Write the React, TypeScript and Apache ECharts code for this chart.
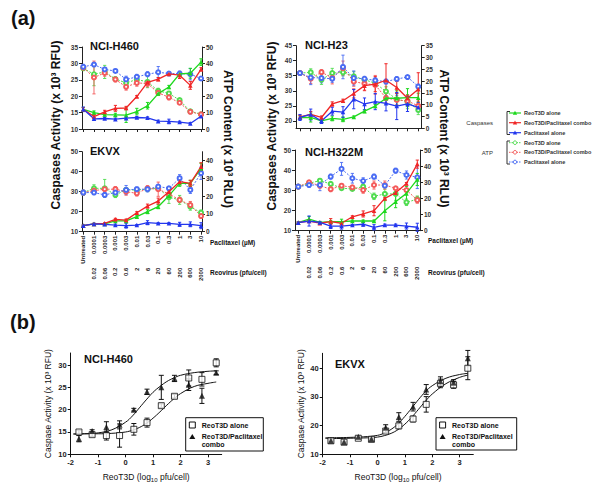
import { useEffect, useRef } from 'react';
import * as echarts from 'echarts';

// ---------- shared labels ----------
const paclitaxelLabels = ['Untreated', '0.0001', '0.0003', '0.001', '0.003', '0.01', '0.03', '0.1', '0.3', '1', '3', '10'];
const reovirusLabels = ['', '0.02', '0.06', '0.2', '0.6', '2', '6', '20', '60', '200', '600', '2000'];
const legendLabels = ['ReoT3D alone', 'ReoT3D/Paclitaxel combo', 'Paclitaxel alone'];

// ---------- (a) NCI-H460 ----------
const h460CaspReo = [16.0, 15.0, 14.4, 14.3, 14.2, 15.3, 17.1, 20.8, 22.8, 26.8, 27.0, 30.4];
const h460CaspReoErr = [0.6, 0.5, 0.5, 0.5, 2.2, 1.0, 1.0, 0.6, 0.5, 0.6, 1.5, 1.0];
const h460CaspCombo = [16.0, 13.8, 15.2, 16.3, 16.4, 19.9, 24.2, 25.2, 26.8, 26.4, 23.3, 28.2];
const h460CaspComboErr = [0.5, 0.5, 0.5, 0.9, 0.5, 0.3, 0.5, 0.5, 0.5, 1.0, 1.2, 0.5];
const h460CaspPac = [16.0, 13.1, 13.2, 13.0, 13.3, 13.5, 13.4, 12.4, 12.3, 12.1, 11.7, 13.9];
const h460CaspPacErr = [0.7, 0.3, 0.3, 0.3, 0.3, 0.3, 0.3, 0.3, 0.7, 0.3, 0.3, 0.3];
const h460AtpReo = [37.0, 33.4, 34.8, 30.5, 28.1, 30.2, 28.7, 23.3, 21.7, 17.6, 10.8, 9.0];
const h460AtpReoErr = [1, 7, 4, 1, 3, 1.5, 3.5, 1.5, 1, 1, 0.5, 0.5];
const h460AtpCombo = [37.4, 31.4, 34.2, 30.2, 25.7, 28.1, 27.7, 22.1, 19.3, 16.0, 10.5, 8.9];
const h460AtpComboErr = [1, 10, 2, 1.5, 2, 2, 2, 1.5, 1.5, 1, 0.5, 0.5];
const h460AtpPac = [37.9, 39.3, 36.3, 35.4, 30.2, 31.8, 33.4, 34.6, 33.8, 33.8, 33.4, 30.8];
const h460AtpPacErr = [1.5, 1.2, 1.2, 0.5, 2, 1.5, 1.5, 3.5, 0.8, 1.5, 3.5, 0.5];

// ---------- (a) EKVX ----------
const ekvxCaspReo = [13.0, 13.9, 13.9, 15.4, 15.4, 17.5, 20.0, 22.5, 28.0, 34.2, 34.2, 41.7];
const ekvxCaspReoErr = [0.3, 0.3, 0.3, 0.5, 0.5, 0.5, 1, 1, 1.5, 1.5, 1.5, 2.5];
const ekvxCaspCombo = [13.0, 13.9, 14.2, 16.2, 15.8, 19.5, 22.8, 25.3, 30.0, 35.0, 34.2, 42.5];
const ekvxCaspComboErr = [0.3, 0.3, 0.3, 0.5, 0.5, 0.5, 1, 1.5, 1.5, 1.5, 1.5, 2];
const ekvxCaspPac = [13.0, 13.9, 13.7, 13.3, 13.0, 13.3, 14.5, 14.2, 14.2, 13.7, 13.7, 13.0];
const ekvxCaspPacErr = [0.3, 0.3, 0.3, 0.5, 1.2, 0.3, 1, 0.3, 0.3, 1, 1.2, 1.5];
const ekvxAtpReo = [22.0, 24.4, 24.4, 20.7, 23.5, 23.5, 23.9, 24.4, 19.4, 17.9, 14.1, 10.7];
const ekvxAtpReoErr = [1, 2, 5, 1.5, 1, 1, 1, 1, 3.5, 2.5, 2, 1.5];
const ekvxAtpCombo = [22.0, 23.1, 23.9, 23.9, 22.5, 21.6, 24.4, 23.9, 21.2, 17.9, 15.0, 8.8];
const ekvxAtpComboErr = [1, 1, 1.5, 1.5, 2, 1.5, 1.5, 4, 2, 1.5, 2, 1];
const ekvxAtpPac = [22.0, 22.0, 20.7, 22.0, 23.5, 23.9, 23.9, 25.4, 24.4, 30.1, 23.5, 32.9];
const ekvxAtpPacErr = [1.5, 1, 1.3, 1.5, 2.5, 1.2, 1.5, 1, 1, 2, 2, 3.5];

// ---------- (a) NCI-H23 ----------
const h23CaspReo = [21.1, 21.1, 20.0, 20.8, 20.5, 21.3, 23.2, 24.9, 27.5, 27.5, 27.7, 27.7];
const h23CaspReoErr = [0.5, 1.5, 0.5, 0.8, 0.8, 0.3, 0.5, 0.5, 0.5, 2.5, 3, 1.5];
const h23CaspCombo = [21.3, 22.1, 21.1, 25.6, 26.7, 29.1, 31.7, 32.2, 33.5, 31.1, 27.5, 30.5];
const h23CaspComboErr = [0.5, 1, 0.5, 0.7, 0.5, 1.5, 1.5, 2.5, 5.5, 2, 1, 5.5];
const h23CaspPac = [21.1, 22.1, 19.9, 23.2, 22.9, 27.2, 25.6, 26.4, 25.8, 24.9, 25.6, 24.5];
const h23CaspPacErr = [1, 1.8, 0.8, 1.3, 1.8, 3.2, 2, 2.7, 2.5, 4.5, 2.5, 1.5];
const h23AtpReo = [23.4, 23.7, 20.6, 23.4, 23.7, 22.0, 20.6, 19.1, 15.6, 12.3, 11.3, 7.8];
const h23AtpReoErr = [0.5, 1.5, 2, 2, 1.5, 2, 1, 1, 2, 2.5, 3, 2];
const h23AtpCombo = [23.4, 21.0, 23.8, 21.3, 25.5, 19.8, 18.9, 18.4, 12.8, 12.0, 11.6, 9.5];
const h23AtpComboErr = [0.5, 2, 1, 2.5, 3, 2, 3, 4, 2, 2, 2, 2];
const h23AtpPac = [23.4, 21.5, 21.3, 21.0, 26.0, 21.3, 21.0, 20.3, 19.8, 20.9, 21.7, 17.7];
const h23AtpPacErr = [0.5, 3, 2, 1.5, 5, 3, 1, 1, 1, 1, 0.5, 1];

// ---------- (a) NCI-H322M ----------
const h322CaspReo = [14.0, 15.8, 14.1, 14.5, 14.5, 14.8, 14.8, 14.8, 19.9, 24.4, 28.5, 35.4];
const h322CaspReoErr = [0.3, 1.2, 0.3, 0.5, 1.2, 0.5, 0.5, 0.5, 5, 3, 3.5, 3];
const h322CaspCombo = [14.0, 14.8, 13.7, 14.5, 13.7, 16.9, 18.3, 19.9, 26.0, 28.8, 33.4, 43.0];
const h322CaspComboErr = [0.3, 0.5, 0.5, 1.5, 0.5, 0.5, 1.5, 2.5, 0.5, 0.5, 0.5, 2];
const h322CaspPac = [14.0, 14.8, 14.1, 12.3, 12.3, 12.8, 13.2, 11.7, 12.8, 12.8, 12.3, 11.7];
const h322CaspPacErr = [0.3, 2.5, 0.5, 1.2, 1.5, 0.3, 1, 1.3, 0.5, 0.5, 1.5, 2];
const h322AtpReo = [27.3, 29.4, 31.0, 29.0, 26.3, 25.9, 27.3, 21.3, 22.8, 22.8, 17.6, 19.5];
const h322AtpReoErr = [0.5, 1.5, 0.5, 0.5, 0.5, 0.5, 1.5, 2, 3, 4, 2, 2];
const h322AtpCombo = [27.3, 30.0, 27.9, 25.7, 27.9, 26.9, 25.2, 28.3, 28.3, 26.3, 25.2, 19.0];
const h322AtpComboErr = [0.5, 1, 1.5, 1.5, 0.5, 0.5, 2, 2.5, 2.5, 1, 2.5, 2];
const h322AtpPac = [27.3, 28.3, 28.3, 33.5, 38.3, 32.5, 30.8, 33.5, 27.9, 37.2, 34.5, 33.1];
const h322AtpPacErr = [1, 1.5, 3.5, 1.5, 4, 3, 2, 1.5, 0.5, 1.5, 2.5, 7];

// ---------- (b) dose-response ----------
const logDose = [-1.7, -1.22, -0.7, -0.22, 0.3, 0.78, 1.3, 1.78, 2.3, 2.78, 3.3];
const bH460Alone = [15.0, 14.4, 14.2, 14.2, 15.6, 17.1, 20.9, 23.0, 27.1, 26.8, 30.5];
const bH460AloneErr = [0.4, 0.4, 1.0, 2.6, 1.3, 1.0, 0.4, 0.4, 1.8, 1.5, 0.9];
const bH460Combo = [13.5, 15.2, 16.1, 16.6, 20.0, 24.0, 25.0, 27.0, 25.6, 23.1, 28.3];
const bH460ComboErr = [0.7, 0.3, 1.2, 0.9, 0.3, 0.6, 2.7, 0.7, 1.3, 1.7, 0.4];
const bEkvxAlone = [14.7, 14.2, 15.6, 15.2, 18.1, 19.9, 22.3, 27.4, 34.7, 34.2, 40.0];
const bEkvxAloneErr = [0.3, 0.3, 0.3, 0.3, 0.5, 1, 1, 2.7, 1.5, 1.2, 4];
const bEkvxCombo = [14.7, 14.3, 16.1, 15.3, 19.3, 23.0, 26.6, 32.6, 35.5, 35.0, 43.5];
const bEkvxComboErr = [0.3, 0.3, 0.3, 0.3, 1, 1.5, 1.5, 1.7, 1.5, 1, 2.7];
// fitted curves at these x positions
const curveX = [-1.9, -1.5, -1, -0.5, 0, 0.25, 0.5, 0.75, 1, 1.25, 1.5, 1.75, 2, 2.5, 3, 3.3];
const bH460AloneCurve = [14.6, 14.6, 14.6, 14.7, 15.0, 15.4, 16.0, 16.9, 18.1, 19.5, 21.0, 22.4, 23.6, 25.2, 25.9, 26.2];
const bH460ComboCurve = [14.5, 14.6, 14.8, 15.5, 17.2, 18.6, 20.4, 22.2, 23.9, 25.2, 26.3, 27.1, 27.7, 28.3, 28.6, 28.7];
const bEkvxAloneCurve = [15.5, 15.5, 15.6, 15.7, 16.0, 16.5, 17.3, 18.6, 20.5, 22.9, 25.7, 28.5, 31.0, 34.6, 36.8, 37.6];
const bEkvxComboCurve = [15.8, 15.8, 15.9, 16.1, 16.6, 17.4, 18.7, 20.6, 23.2, 26.1, 29.1, 31.8, 33.9, 36.5, 37.8, 38.2];
const bXTicks = [-2, -1, 0, 1, 2, 3];

const FONT = '"Liberation Sans", Arial, Helvetica, sans-serif';
const caspColors = ['#1fd81f', '#f02626', '#2236ee'];
const atpColors = ['#4fdc4f', '#f45a5a', '#4a6cf4'];
const catIdx = paclitaxelLabels.map((_, i) => i);

const panelsA = [
  {
    title: 'NCI-H460', tx: 90, ty: 46, grid: { left: 82, top: 47, width: 120, height: 82 }, xMin: -0.12, xMax: 11.09,
    yL: [10, 35], yLTicks: [10, 15, 20, 25, 30, 35], yR: [0, 50], yRTicks: [0, 10, 20, 30, 40, 50], labels: false,
    casp: [[h460CaspReo, h460CaspReoErr], [h460CaspCombo, h460CaspComboErr], [h460CaspPac, h460CaspPacErr]],
    atp: [[h460AtpReo, h460AtpReoErr], [h460AtpCombo, h460AtpComboErr], [h460AtpPac, h460AtpPacErr]],
  },
  {
    title: 'EKVX', tx: 90, ty: 151, grid: { left: 82, top: 151.7, width: 120, height: 80 }, xMin: -0.12, xMax: 11.09,
    yL: [10, 50], yLTicks: [10, 20, 30, 40, 50], yR: [0, 45], yRTicks: [0, 10, 20, 30, 40], labels: true,
    casp: [[ekvxCaspReo, ekvxCaspReoErr], [ekvxCaspCombo, ekvxCaspComboErr], [ekvxCaspPac, ekvxCaspPacErr]],
    atp: [[ekvxAtpReo, ekvxAtpReoErr], [ekvxAtpCombo, ekvxAtpComboErr], [ekvxAtpPac, ekvxAtpPacErr]],
  },
  {
    title: 'NCI-H23', tx: 305, ty: 45, grid: { left: 296, top: 45.7, width: 125.7, height: 82.6 }, xMin: -0.37, xMax: 11.32,
    yL: [17.5, 45], yLTicks: [20, 25, 30, 35, 40, 45], yR: [0, 35], yRTicks: [0, 5, 10, 15, 20, 25, 30, 35], labels: false,
    casp: [[h23CaspReo, h23CaspReoErr], [h23CaspCombo, h23CaspComboErr], [h23CaspPac, h23CaspPacErr]],
    atp: [[h23AtpReo, h23AtpReoErr], [h23AtpCombo, h23AtpComboErr], [h23AtpPac, h23AtpPacErr]],
  },
  {
    title: 'NCI-H322M', tx: 305, ty: 151.5, grid: { left: 295, top: 150, width: 125, height: 80.7 }, xMin: -0.3, xMax: 11.25,
    yL: [10, 50], yLTicks: [10, 20, 30, 40, 50], yR: [0, 50], yRTicks: [0, 10, 20, 30, 40, 50], labels: true,
    casp: [[h322CaspReo, h322CaspReoErr], [h322CaspCombo, h322CaspComboErr], [h322CaspPac, h322CaspPacErr]],
    atp: [[h322AtpReo, h322AtpReoErr], [h322AtpCombo, h322AtpComboErr], [h322AtpPac, h322AtpPacErr]],
  },
];

const panelsB = [
  {
    title: 'NCI-H460', tx: 84, ty: 359, grid: { left: 70.7, top: 353, width: 151, height: 101.3 }, yMax: 32.7, yTicks: [10, 15, 20, 25, 30],
    alone: [bH460Alone, bH460AloneErr], combo: [bH460Combo, bH460ComboErr], aloneCurve: bH460AloneCurve, comboCurve: bH460ComboCurve,
    yTitleX: 48, legend: { x: 185.7, y: 417.7, w: 77.6, h: 33.3 },
  },
  {
    title: 'EKVX', tx: 335, ty: 364.3, grid: { left: 322.7, top: 353.3, width: 150.6, height: 101 }, yMax: 45.2, yTicks: [10, 20, 30, 40],
    alone: [bEkvxAlone, bEkvxAloneErr], combo: [bEkvxCombo, bEkvxComboErr], aloneCurve: bEkvxAloneCurve, comboCurve: bEkvxComboCurve,
    yTitleX: 301, legend: { x: 436, y: 417.7, w: 80.7, h: 32.3 },
  },
];

function errorBars(xi: number, yi: number, xs: number[], vals: number[], errs: number[], color: string, cap: number, width = 1) {
  return {
    type: 'custom', xAxisIndex: xi, yAxisIndex: yi, silent: true, z: 1,
    data: vals.map((v, i) => [xs[i], v, errs[i]]),
    renderItem: (_p: any, api: any) => {
      const x = api.value(0), v = api.value(1), e = api.value(2);
      if (!e) return null;
      const a = api.coord([x, v + e]);
      const b = api.coord([x, v - e]);
      const st = { stroke: color, lineWidth: width };
      return {
        type: 'group', children: [
          { type: 'line', shape: { x1: a[0], y1: a[1], x2: b[0], y2: b[1] }, style: st },
          { type: 'line', shape: { x1: a[0] - cap, y1: a[1], x2: a[0] + cap, y2: a[1] }, style: st },
          { type: 'line', shape: { x1: b[0] - cap, y1: b[1], x2: b[0] + cap, y2: b[1] }, style: st },
        ],
      };
    },
  };
}

function txt(text: string, x: number, y: number, size: number, opts: any = {}) {
  return {
    type: 'text', x, y, rotation: opts.rot || 0, silent: true, z: 100,
    style: {
      text, fontFamily: FONT, fontSize: size, fontWeight: opts.weight || 'bold', fill: opts.fill || '#111',
      align: opts.align || 'left', verticalAlign: 'middle', rich: opts.rich,
    },
  };
}

function buildOption() {
  const grid: any[] = [];
  const xAxis: any[] = [];
  const yAxis: any[] = [];
  const series: any[] = [];
  const graphic: any[] = [];
  const axisCol = '#222';

  panelsA.forEach((p) => {
    const g = grid.length;
    grid.push({ ...p.grid });
    const xi = xAxis.length;
    xAxis.push({
      type: 'value', gridIndex: g, min: p.xMin, max: p.xMax, position: 'bottom',
      axisLine: { show: true, onZero: false, lineStyle: { color: axisCol, width: 1 } },
      axisTick: { show: true, length: 3, customValues: catIdx, lineStyle: { color: axisCol } },
      axisLabel: {
        show: p.labels, customValues: catIdx, formatter: (v: number) => paclitaxelLabels[Math.round(v)] ?? '',
        rotate: 90, margin: 4, fontSize: 6, fontWeight: 'bold', color: '#222', fontFamily: FONT,
      },
      splitLine: { show: false },
    });
    if (p.labels) {
      xAxis.push({
        type: 'value', gridIndex: g, min: p.xMin, max: p.xMax, position: 'bottom', offset: 32,
        axisLine: { show: false, onZero: false }, axisTick: { show: false },
        axisLabel: {
          customValues: catIdx.slice(1), formatter: (v: number) => reovirusLabels[Math.round(v)] ?? '',
          rotate: 90, margin: 4, fontSize: 6, fontWeight: 'bold', color: '#222', fontFamily: FONT,
        },
        splitLine: { show: false },
      });
    }
    const yl = yAxis.length;
    yAxis.push({
      type: 'value', gridIndex: g, position: 'left', min: p.yL[0], max: p.yL[1],
      axisLine: { show: true, onZero: false, lineStyle: { color: axisCol } },
      axisTick: { show: true, length: 3, customValues: p.yLTicks, lineStyle: { color: axisCol } },
      axisLabel: { customValues: p.yLTicks, margin: 4, fontSize: 6.5, fontWeight: 'bold', color: '#333', fontFamily: FONT },
      splitLine: { show: false },
    });
    const yr = yAxis.length;
    yAxis.push({
      type: 'value', gridIndex: g, position: 'right', min: p.yR[0], max: p.yR[1],
      axisLine: { show: true, onZero: false, lineStyle: { color: axisCol } },
      axisTick: { show: true, length: 3, customValues: p.yRTicks, lineStyle: { color: axisCol } },
      axisLabel: { customValues: p.yRTicks, margin: 4, fontSize: 6.5, fontWeight: 'bold', color: '#333', fontFamily: FONT },
      splitLine: { show: false },
    });

    p.atp.forEach(([vals, errs], k) => {
      series.push(errorBars(xi, yr, catIdx, vals, errs, atpColors[k], 1.6, 0.9));
      series.push({
        type: 'line', name: 'ATP ' + legendLabels[k], xAxisIndex: xi, yAxisIndex: yr,
        data: vals.map((v, i) => [i, v]), symbol: 'emptyCircle', symbolSize: 4,
        itemStyle: { color: atpColors[k], borderWidth: 1 },
        lineStyle: { color: atpColors[k], width: 1, type: [2, 1.5] }, z: 3,
      });
    });
    p.casp.forEach(([vals, errs], k) => {
      series.push(errorBars(xi, yl, catIdx, vals, errs, caspColors[k], 1.6));
      series.push({
        type: 'line', name: 'Caspases ' + legendLabels[k], xAxisIndex: xi, yAxisIndex: yl,
        data: vals.map((v, i) => [i, v]), symbol: 'triangle', symbolSize: 4.5,
        itemStyle: { color: caspColors[k] },
        lineStyle: { color: caspColors[k], width: 1.3 }, z: 4,
      });
    });
    graphic.push(txt(p.title, p.tx, p.ty, 11));
  });

  panelsB.forEach((p) => {
    const g = grid.length;
    grid.push({ ...p.grid });
    const xi = xAxis.length;
    xAxis.push({
      type: 'value', gridIndex: g, min: -2, max: 3.5, position: 'bottom',
      axisLine: { show: true, onZero: false, lineStyle: { color: '#111' } },
      axisTick: { show: true, length: 3, customValues: bXTicks, lineStyle: { color: '#111' } },
      axisLabel: { customValues: bXTicks, margin: 4, fontSize: 7.5, fontWeight: 'bold', color: '#222', fontFamily: FONT },
      splitLine: { show: false },
    });
    const yi = yAxis.length;
    yAxis.push({
      type: 'value', gridIndex: g, position: 'left', min: 10, max: p.yMax,
      axisLine: { show: true, onZero: false, lineStyle: { color: '#111' } },
      axisTick: { show: true, length: 3, customValues: p.yTicks, lineStyle: { color: '#111' } },
      axisLabel: { customValues: p.yTicks, margin: 4, fontSize: 7.5, fontWeight: 'bold', color: '#222', fontFamily: FONT },
      splitLine: { show: false },
    });
    series.push({
      type: 'line', name: 'fit alone', xAxisIndex: xi, yAxisIndex: yi, data: curveX.map((x, i) => [x, p.aloneCurve[i]]),
      showSymbol: false, smooth: 0.4, lineStyle: { color: '#111', width: 1 }, z: 2,
    });
    series.push({
      type: 'line', name: 'fit combo', xAxisIndex: xi, yAxisIndex: yi, data: curveX.map((x, i) => [x, p.comboCurve[i]]),
      showSymbol: false, smooth: 0.4, lineStyle: { color: '#111', width: 1 }, z: 2,
    });
    series.push(errorBars(xi, yi, logDose, p.alone[0], p.alone[1], '#111', 2.5));
    series.push(errorBars(xi, yi, logDose, p.combo[0], p.combo[1], '#111', 2.5));
    series.push({
      type: 'scatter', name: 'ReoT3D alone', xAxisIndex: xi, yAxisIndex: yi, data: logDose.map((x, i) => [x, p.alone[0][i]]),
      symbol: 'rect', symbolSize: 6, itemStyle: { color: '#fff', borderColor: '#111', borderWidth: 1 }, z: 5,
    });
    series.push({
      type: 'scatter', name: 'ReoT3D/Paclitaxel combo', xAxisIndex: xi, yAxisIndex: yi, data: logDose.map((x, i) => [x, p.combo[0][i]]),
      symbol: 'triangle', symbolSize: 6, itemStyle: { color: '#111' }, z: 6,
    });
    graphic.push(txt(p.title, p.tx, p.ty, 11));
    const gx = p.grid.left + p.grid.width / 2;
    graphic.push(txt('{n|ReoT3D (log}{s|10}{n| pfu/cell)}', gx, 476.7, 8.5, {
      weight: 'normal', align: 'center',
      rich: {
        n: { fontFamily: FONT, fontSize: 8.5, fill: '#111', lineHeight: 12, verticalAlign: 'middle' },
        s: { fontFamily: FONT, fontSize: 6, fill: '#111', lineHeight: 12, verticalAlign: 'bottom' },
      },
    }));
    graphic.push(txt('Caspase Activity (x 10³ RFU)', p.yTitleX, p.grid.top + p.grid.height / 2, 8.5, { weight: 'normal', align: 'center', rot: Math.PI / 2 }));
    const L = p.legend;
    graphic.push({ type: 'rect', shape: { x: L.x, y: L.y, width: L.w, height: L.h }, style: { fill: '#fff', stroke: '#111', lineWidth: 1 }, z: 90, silent: true });
    const mx = L.x + 6.6;
    const y1 = L.y + 7.3;
    const y2 = L.y + 19;
    graphic.push({ type: 'rect', shape: { x: mx - 3, y: y1 - 3, width: 6, height: 6 }, style: { fill: '#fff', stroke: '#111', lineWidth: 1 }, z: 95, silent: true });
    graphic.push({ type: 'polygon', shape: { points: [[mx, y2 - 2.8], [mx + 3, y2 + 2.4], [mx - 3, y2 + 2.4]] }, style: { fill: '#111' }, z: 95, silent: true });
    graphic.push(txt('ReoT3D alone', L.x + 16, y1, 7));
    graphic.push(txt('ReoT3D/Paclitaxel', L.x + 16, y2, 7));
    graphic.push(txt('combo', L.x + 16, y2 + 7.6, 7));
  });

  // panel labels & big axis titles (a)
  graphic.push(txt('(a)', 11, 18, 20));
  graphic.push(txt('(b)', 10, 322, 20));
  graphic.push(txt('Caspases Activity (x 10³ RFU)', 56, 125, 12, { align: 'center', rot: Math.PI / 2 }));
  graphic.push(txt('Caspases Activity (x 10³ RFU)', 272, 126, 12, { align: 'center', rot: Math.PI / 2 }));
  graphic.push(txt('ATP Content (x 10³ RLU)', 228, 139, 12, { align: 'center', rot: -Math.PI / 2 }));
  graphic.push(txt('ATP Content (x 10³ RLU)', 444, 138.5, 12, { align: 'center', rot: -Math.PI / 2 }));
  graphic.push(txt('Paclitaxel (µM)', 210, 242, 6.5));
  graphic.push(txt('Reovirus (pfu/cell)', 210, 272, 6.5));
  graphic.push(txt('Paclitaxel (µM)', 428, 240, 6.5));
  graphic.push(txt('Reovirus (pfu/cell)', 428, 272, 6.5));

  // legend (a)
  graphic.push(txt('Caspases', 493, 123, 6, { weight: 'normal', align: 'right', fill: '#333' }));
  graphic.push(txt('ATP', 493, 152.5, 6, { weight: 'normal', align: 'right', fill: '#333' }));
  graphic.push({ type: 'polyline', shape: { points: [[510, 111.5], [507, 111.5], [507, 134.5], [510, 134.5]] }, style: { stroke: '#333', lineWidth: 1, fill: null }, silent: true });
  graphic.push({ type: 'polyline', shape: { points: [[510, 141], [507, 141], [507, 164], [510, 164]] }, style: { stroke: '#333', lineWidth: 1, fill: null }, silent: true });
  const capsY = [113, 122.7, 132.7];
  const atpY = [142.7, 152.3, 162];
  legendLabels.forEach((lab, k) => {
    const y = capsY[k];
    graphic.push({ type: 'line', shape: { x1: 509, y1: y, x2: 521, y2: y }, style: { stroke: caspColors[k], lineWidth: 1.2 }, silent: true });
    graphic.push({ type: 'polygon', shape: { points: [[515, y - 2.2], [517.2, y + 1.8], [512.8, y + 1.8]] }, style: { fill: caspColors[k] }, silent: true });
    graphic.push(txt(lab, 524, y, 5.5, { fill: '#333' }));
    const ya = atpY[k];
    graphic.push({ type: 'line', shape: { x1: 509, y1: ya, x2: 521, y2: ya }, style: { stroke: atpColors[k], lineWidth: 1, lineDash: [1.5, 1] }, silent: true });
    graphic.push({ type: 'circle', shape: { cx: 515, cy: ya, r: 1.8 }, style: { fill: '#fff', stroke: atpColors[k], lineWidth: 1 }, silent: true });
    graphic.push(txt(lab, 524, ya, 5.5, { fill: '#333' }));
  });

  return {
    animation: false,
    backgroundColor: '#fff',
    textStyle: { fontFamily: FONT },
    grid, xAxis, yAxis, series, graphic,
  };
}

export default function App() {
  const ref = useRef<HTMLDivElement>(null);
  useEffect(() => {
    if (!ref.current) return;
    const chart = echarts.init(ref.current, undefined, { renderer: 'svg' });
    chart.setOption(buildOption() as any);
    return () => chart.dispose();
  }, []);
  return <div ref={ref} style={{ position: 'absolute', left: 0, top: 0, width: 600, height: 495, background: '#fff' }} />;
}
